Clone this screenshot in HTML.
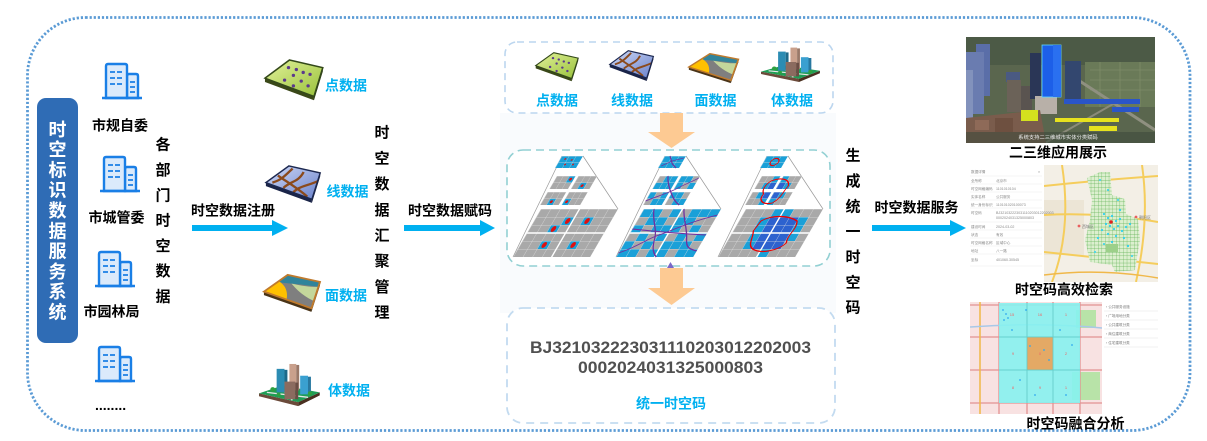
<!DOCTYPE html>
<html><head><meta charset="utf-8">
<style>
html,body{margin:0;padding:0;background:#fff;width:1207px;height:441px;overflow:hidden}
svg{display:block}
text{font-family:"Liberation Sans","Noto Sans CJK SC",sans-serif;font-weight:bold}
.t{font-family:"Liberation Sans","Noto Sans CJK SC",sans-serif;font-weight:normal}
</style></head><body>
<svg width="1207" height="441" viewBox="0 0 1207 441" xmlns="http://www.w3.org/2000/svg">
<defs>
<pattern id="g8" width="9.625" height="8" patternUnits="userSpaceOnUse"><path d="M0,0H9.625M0,0V8" stroke="#e2e2e2" stroke-width="0.7" fill="none"/></pattern>
<pattern id="g6" width="6.17" height="6.5" patternUnits="userSpaceOnUse"><path d="M0,0H6.17M0,0V6.5" stroke="#e2e2e2" stroke-width="0.6" fill="none"/></pattern>
<pattern id="g7" width="7" height="6" patternUnits="userSpaceOnUse"><path d="M0,0H7M0,0V6" stroke="#e2e2e2" stroke-width="0.6" fill="none"/></pattern>
<pattern id="gg" width="3.6" height="3.6" patternUnits="userSpaceOnUse"><path d="M0,0H3.6M0,0V3.6" stroke="#5cb050" stroke-width="0.6" fill="none"/></pattern>
<linearGradient id="gGreen" x1="0" y1="0" x2="1" y2="1"><stop offset="0" stop-color="#e2f29a"/><stop offset="1" stop-color="#98c03a"/></linearGradient>
<linearGradient id="gBlue" x1="0" y1="0" x2="1" y2="1"><stop offset="0" stop-color="#d0daf6"/><stop offset="1" stop-color="#6a82cc"/></linearGradient>
<clipPath id="plateClip"><polygon points="26,1 60,9 51,39 1,20"/></clipPath>
<g id="bld">
 <path d="M25,35V13Q25,11 27,11H34Q36,11 36,13V35Z" fill="#dbeafb" stroke="#1a7fe6" stroke-width="2.4"/>
 <path d="M4,35V3Q4,1 6,1H23Q25,1 25,3V35Z" fill="#dbeafb" stroke="#1a7fe6" stroke-width="2.4"/>
 <path d="M0,35H40" stroke="#1a7fe6" stroke-width="2.6"/>
 <path d="M8,9H13M15,9H20M8,15H13M15,15H20M8,21H13M15,21H20M28,19H33M28,24H33M28,29H33" stroke="#1a7fe6" stroke-width="1.7"/>
</g>
<g id="ptPlate">
 <polygon points="1,20 51,39 51,43 1,24" fill="#3a4818"/>
 <polygon points="51,39 60,9 60,13 51,43" fill="#26330e"/>
 <polygon points="26,1 60,9 51,39 1,20" fill="url(#gGreen)" stroke="#33481a" stroke-width="1.6"/>
 <g fill="#5b3a8c"><circle cx="25" cy="9" r="1.7"/><circle cx="33" cy="11" r="1.7"/><circle cx="40" cy="14" r="1.7"/><circle cx="30" cy="17" r="1.7"/><circle cx="47" cy="16" r="1.7"/><circle cx="21" cy="22" r="1.7"/><circle cx="38" cy="23" r="1.7"/><circle cx="30" cy="28" r="1.7"/><circle cx="45" cy="28" r="1.7"/></g>
</g>
<g id="lnPlate">
 <polygon points="1,20 51,39 51,43 1,24" fill="#1a2448"/>
 <polygon points="51,39 60,9 60,13 51,43" fill="#141c3a"/>
 <polygon points="26,1 60,9 51,39 1,20" fill="url(#gBlue)"/>
 <g clip-path="url(#plateClip)" fill="none" stroke="#8b4a1c" stroke-width="2.6">
  <path d="M8,20C18,17 22,12 30,4"/><path d="M20,26C28,18 36,20 42,8"/><path d="M30,32C36,24 46,24 58,18"/><path d="M14,12C25,20 35,26 46,36"/>
 </g>
 <polygon points="26,1 60,9 51,39 1,20" fill="none" stroke="#1c2850" stroke-width="1.6"/>
</g>
<g id="arPlate">
 <polygon points="1,20 51,39 51,43 1,24" fill="#4a3418"/>
 <polygon points="51,39 60,9 60,13 51,43" fill="#3a2810"/>
 <polygon points="26,1 60,9 51,39 1,20" fill="#7f7f7f"/>
 <g clip-path="url(#plateClip)">
  <polygon points="0,0 62,0 62,15 40,12 20,10" fill="#31849b"/>
  <path d="M30,11C40,13 50,16 62,14L62,34C50,30 40,24 30,11Z" fill="#c4d79b"/>
  <path d="M0,20L12,6C22,10 28,18 24,33Z" fill="#ffc000"/>
 </g>
 <polygon points="26,1 60,9 51,39 1,20" fill="none" stroke="#c07a2c" stroke-width="2"/>
</g>
<g id="bdPlate">
 <polygon points="0,32 40,41 40,45 0,35" fill="#6b4a3a"/>
 <polygon points="40,41 62,31 62,34 40,45" fill="#4a3020"/>
 <polygon points="0,32 24,24 62,31 40,41" fill="#1f9d55"/>
 <path d="M8,31L50,36M22,26L34,39" stroke="#e6e6e6" stroke-width="1.4"/>
 <rect x="18" y="7" width="8" height="24" fill="#2b8cb3"/><rect x="26" y="8" width="3" height="23" fill="#1d6a8a"/>
 <rect x="31" y="2" width="7" height="27" fill="#c9a08c"/><rect x="38" y="3" width="3" height="26" fill="#9a7868"/>
 <rect x="42" y="14" width="8" height="19" fill="#3aa0d0"/><rect x="50" y="15" width="3" height="18" fill="#2878a0"/>
 <rect x="26" y="20" width="11" height="18" fill="#8b6b5f"/><rect x="37" y="21" width="3" height="17" fill="#6a4d44"/>
 <circle cx="14" cy="28" r="2.4" fill="#2fa040"/><circle cx="52" cy="32" r="2.2" fill="#2fa040"/><circle cx="20" cy="33" r="2" fill="#2fa040"/>
</g>
<clipPath id="c1"><rect x="966" y="37" width="189" height="106"/></clipPath>
<clipPath id="c2"><rect x="968" y="165" width="190" height="117"/></clipPath>
<clipPath id="c3"><rect x="970" y="302" width="190" height="112"/></clipPath>
</defs>

<rect x="27.5" y="17.5" width="1162.5" height="413" rx="58" fill="none" stroke="#5b9bd5" stroke-width="2.8" stroke-dasharray="2.2 1.9"/>

<rect x="37" y="98" width="41" height="245" rx="9" fill="#2f6cb5"/>
<g fill="#fff" font-size="18" text-anchor="middle">
<text x="57.5" y="135.8">时</text><text x="57.5" y="156.1">空</text><text x="57.5" y="176.4">标</text><text x="57.5" y="196.7">识</text><text x="57.5" y="217">数</text><text x="57.5" y="237.3">据</text><text x="57.5" y="257.6">服</text><text x="57.5" y="277.9">务</text><text x="57.5" y="298.2">系</text><text x="57.5" y="318.5">统</text>
</g>

<use href="#bld" transform="translate(102,63)"/>
<use href="#bld" transform="translate(100,156)"/>
<use href="#bld" transform="translate(95,251)"/>
<use href="#bld" transform="translate(95,346)"/>
<g font-size="14" fill="#000" text-anchor="middle">
<text x="120" y="130.3">市规自委</text>
<text x="116.5" y="222.3">市城管委</text>
<text x="111.5" y="316.3">市园林局</text>
</g>
<text x="95" y="410" font-size="14" fill="#000">........</text>

<g font-size="15" fill="#000" text-anchor="middle">
<text x="163" y="149.7">各</text><text x="163" y="175">部</text><text x="163" y="200.3">门</text><text x="163" y="225.6">时</text><text x="163" y="250.9">空</text><text x="163" y="276.2">数</text><text x="163" y="301.5">据</text>
</g>

<g fill="#00b0f0">
<rect x="192" y="225" width="82" height="6"/><polygon points="272,220 288,228 272,236"/>
<rect x="404" y="225" width="78" height="6"/><polygon points="480,220 495,228 480,236"/>
<rect x="872" y="225" width="80" height="6"/><polygon points="950,220 966,228 950,236"/>
</g>
<g font-size="14" fill="#000" text-anchor="middle">
<text x="233" y="215.3">时空数据注册</text>
<text x="450" y="215.3">时空数据赋码</text>
<text x="916.5" y="212.3">时空数据服务</text>
</g>

<use href="#ptPlate" transform="translate(264,59) scale(0.98,0.96)"/>
<use href="#lnPlate" transform="translate(265,165) scale(0.92,0.88)"/>
<use href="#arPlate" transform="translate(263,274) scale(0.95,0.88)"/>
<use href="#bdPlate" transform="translate(259,362) scale(0.98,0.98)"/>
<g font-size="14" fill="#00b0f0" text-anchor="middle">
<text x="346" y="90.3">点数据</text>
<text x="347.5" y="196.3">线数据</text>
<text x="346" y="300.3">面数据</text>
<text x="349" y="395.3">体数据</text>
</g>

<g font-size="15" fill="#000" text-anchor="middle">
<text x="382" y="137.7">时</text><text x="382" y="163.4">空</text><text x="382" y="189.1">数</text><text x="382" y="214.8">据</text><text x="382" y="240.5">汇</text><text x="382" y="266.2">聚</text><text x="382" y="291.9">管</text><text x="382" y="317.6">理</text>
</g>

<rect x="500" y="113" width="336" height="200" fill="#f9fbfd"/>

<rect x="505" y="42" width="328" height="71" rx="12" fill="#fff" stroke="#bcd6ef" stroke-width="1.6" stroke-dasharray="7 5"/>
<use href="#ptPlate" transform="translate(535,52) scale(0.72,0.68)"/>
<use href="#lnPlate" transform="translate(609,50) scale(0.74,0.72)"/>
<use href="#arPlate" transform="translate(688,53) scale(0.84,0.7)"/>
<use href="#bdPlate" transform="translate(761,46) scale(0.95,0.8)"/>
<g font-size="14" fill="#00b0f0" text-anchor="middle">
<text x="557" y="105.3">点数据</text><text x="632" y="105.3">线数据</text><text x="715.5" y="105.3">面数据</text><text x="792" y="105.3">体数据</text>
</g>

<g fill="#fdca93">
<rect x="660" y="113" width="23" height="20"/><polygon points="648,132 695,132 671.5,148"/>
<rect x="660" y="268" width="23" height="21"/><polygon points="648,288 695,288 671.5,305"/>
</g>

<rect x="507" y="150" width="323" height="116" rx="16" fill="#fff" stroke="#92d0d3" stroke-width="1.6" stroke-dasharray="8 5"/>
<polygon points="667,268 670.5,262 674,268" fill="#7b68c8"/>

<g>
<path d="M562,156L513,257M583,156L618,209" stroke="#9a9a9a" stroke-width="0.7" fill="none"/>
<g transform="matrix(1,0,-0.58,1,541,209)">
 <rect width="77" height="48" fill="#a9a9a9"/>
 <g fill="#1aa0d8"><rect x="28.875" y="8" width="9.625" height="8"/><rect x="19.25" y="16" width="9.625" height="8"/><rect x="48.125" y="8" width="9.625" height="8"/><rect x="19.25" y="32" width="9.625" height="8"/><rect x="48.125" y="32" width="9.625" height="8"/></g>
 <rect width="77" height="48" fill="url(#g8)"/>
 <path d="M38.5,0V48M0,24H77" stroke="#fff" stroke-width="1.6"/>
 <g fill="#e01010"><ellipse cx="33.7" cy="12" rx="2.2" ry="3"/><ellipse cx="24.1" cy="20" rx="2.2" ry="3"/><ellipse cx="53" cy="12" rx="2.2" ry="3"/><ellipse cx="24.1" cy="36" rx="2.2" ry="3"/><ellipse cx="53" cy="36" rx="2.2" ry="3"/></g>
</g>
<g transform="matrix(1,0,-0.58,1,557,176)">
 <g><rect width="18.5" height="13" fill="#a9a9a9"/><rect x="12.34" y="0" width="6.17" height="6.5" fill="#1aa0d8"/><rect width="18.5" height="13" fill="url(#g6)"/><circle cx="15.4" cy="3.2" r="1.4" fill="#e01010"/></g>
 <g transform="translate(21.5,0)"><rect width="18.5" height="13" fill="#a9a9a9"/><rect x="6.17" y="6.5" width="6.17" height="6.5" fill="#1aa0d8"/><rect width="18.5" height="13" fill="url(#g6)"/><circle cx="9.2" cy="9.7" r="1.4" fill="#e01010"/></g>
 <g transform="translate(0,16)"><rect width="18.5" height="13" fill="#a9a9a9"/><rect x="6.17" y="6.5" width="6.17" height="6.5" fill="#1aa0d8"/><rect width="18.5" height="13" fill="url(#g6)"/><circle cx="9.2" cy="9.7" r="1.4" fill="#e01010"/></g>
 <g transform="translate(21.5,16)"><rect width="18.5" height="13" fill="#a9a9a9"/><rect x="0" y="6.5" width="6.17" height="6.5" fill="#1aa0d8"/><rect width="18.5" height="13" fill="url(#g6)"/><circle cx="3.1" cy="9.7" r="1.4" fill="#e01010"/></g>
</g>
<g transform="matrix(1,0,-0.58,1,562,156)">
 <rect width="21" height="12" fill="#1aa0d8"/><rect width="21" height="12" fill="url(#g7)"/>
 <g fill="#e01010"><circle cx="5" cy="3" r="0.9"/><circle cx="12" cy="4" r="0.9"/><circle cx="8" cy="8.5" r="0.9"/><circle cx="16" cy="8.5" r="0.9"/></g>
</g>
</g>

<g transform="translate(103,0)">
<path d="M562,156L513,257M583,156L618,209" stroke="#9a9a9a" stroke-width="0.7" fill="none"/>
<g transform="matrix(1,0,-0.58,1,541,209)">
 <rect width="77" height="48" fill="#a9a9a9"/>
 <g fill="#1aa0d8">
  <rect x="0" y="0" width="9.625" height="8"/><rect x="9.625" y="0" width="9.625" height="8"/><rect x="28.875" y="0" width="9.625" height="8"/><rect x="48.125" y="0" width="9.625" height="8"/><rect x="57.75" y="0" width="9.625" height="8"/><rect x="67.375" y="0" width="9.625" height="8"/>
  <rect x="9.625" y="8" width="9.625" height="8"/><rect x="19.25" y="8" width="9.625" height="8"/><rect x="38.5" y="8" width="9.625" height="8"/><rect x="48.125" y="8" width="9.625" height="8"/>
  <rect x="0" y="16" width="9.625" height="8"/><rect x="19.25" y="16" width="9.625" height="8"/><rect x="28.875" y="16" width="9.625" height="8"/><rect x="38.5" y="16" width="9.625" height="8"/><rect x="57.75" y="16" width="9.625" height="8"/>
  <rect x="9.625" y="24" width="9.625" height="8"/><rect x="28.875" y="24" width="9.625" height="8"/><rect x="48.125" y="24" width="9.625" height="8"/><rect x="67.375" y="24" width="9.625" height="8"/>
  <rect x="0" y="32" width="9.625" height="8"/><rect x="19.25" y="32" width="9.625" height="8"/><rect x="38.5" y="32" width="9.625" height="8"/><rect x="48.125" y="32" width="9.625" height="8"/><rect x="57.75" y="32" width="9.625" height="8"/>
  <rect x="0" y="40" width="9.625" height="8"/><rect x="9.625" y="40" width="9.625" height="8"/><rect x="28.875" y="40" width="9.625" height="8"/><rect x="38.5" y="40" width="9.625" height="8"/><rect x="57.75" y="40" width="9.625" height="8"/><rect x="67.375" y="40" width="9.625" height="8"/>
 </g>
 <rect width="77" height="48" fill="url(#g8)"/>
 <path d="M38.5,0V48M0,24H77" stroke="#fff" stroke-width="1.6"/>
 <g fill="none" stroke="#7030a0" stroke-width="1.1">
  <path d="M0,44C15,38 20,30 30,26S50,14 77,6"/><path d="M10,0C15,12 25,20 28,30S35,44 40,48"/><path d="M40,0C45,10 55,20 60,30S70,40 77,42"/><path d="M0,20C20,22 40,24 77,26"/>
 </g>
</g>
<g transform="matrix(1,0,-0.58,1,557,176)">
 <g><rect width="18.5" height="13" fill="#a9a9a9"/><g fill="#1aa0d8"><rect x="6.17" width="6.17" height="6.5"/><rect x="12.34" width="6.17" height="6.5"/><rect y="6.5" width="6.17" height="6.5"/><rect x="6.17" y="6.5" width="6.17" height="6.5"/><rect x="12.34" y="6.5" width="6.17" height="6.5"/></g><rect width="18.5" height="13" fill="url(#g6)"/></g>
 <g transform="translate(21.5,0)"><rect width="18.5" height="13" fill="#a9a9a9"/><g fill="#1aa0d8"><rect width="6.17" height="6.5"/><rect x="6.17" width="6.17" height="6.5"/><rect y="6.5" width="6.17" height="6.5"/><rect x="12.34" y="6.5" width="6.17" height="6.5"/></g><rect width="18.5" height="13" fill="url(#g6)"/></g>
 <g transform="translate(0,16)"><rect width="18.5" height="13" fill="#a9a9a9"/><g fill="#1aa0d8"><rect width="6.17" height="6.5"/><rect x="12.34" width="6.17" height="6.5"/><rect x="6.17" y="6.5" width="6.17" height="6.5"/><rect x="12.34" y="6.5" width="6.17" height="6.5"/></g><rect width="18.5" height="13" fill="url(#g6)"/></g>
 <g transform="translate(21.5,16)"><rect width="18.5" height="13" fill="#a9a9a9"/><g fill="#1aa0d8"><rect width="6.17" height="6.5"/><rect x="6.17" width="6.17" height="6.5"/><rect x="6.17" y="6.5" width="6.17" height="6.5"/><rect x="12.34" y="6.5" width="6.17" height="6.5"/></g><rect width="18.5" height="13" fill="url(#g6)"/></g>
 <g fill="none" stroke="#7030a0" stroke-width="1"><path d="M0,25C10,20 20,16 25,12S35,6 40,2"/><path d="M8,0C12,8 18,14 22,18S30,26 36,29"/></g>
</g>
<g transform="matrix(1,0,-0.58,1,562,156)">
 <rect width="21" height="12" fill="#1aa0d8"/><rect width="21" height="12" fill="url(#g7)"/>
 <path d="M2,10L10,5L20,2M5,0L12,8L18,12" fill="none" stroke="#7030a0" stroke-width="0.9"/>
</g>
</g>

<g transform="translate(205,0)">
<path d="M562,156L513,257M583,156L618,209" stroke="#9a9a9a" stroke-width="0.7" fill="none"/>
<g transform="matrix(1,0,-0.58,1,541,209)">
 <rect width="77" height="48" fill="#a9a9a9"/>
 <g fill="#1aa0d8">
  <rect x="28.875" y="0" width="19.25" height="8"/>
  <rect x="19.25" y="8" width="48.125" height="8"/>
  <rect x="19.25" y="16" width="48.125" height="8"/>
  <rect x="19.25" y="24" width="48.125" height="8"/>
  <rect x="19.25" y="32" width="38.5" height="8"/>
  <rect x="38.5" y="40" width="9.625" height="8"/>
 </g>
 <rect x="28.875" y="8" width="28.875" height="32" fill="#2d62cf"/>
 <rect width="77" height="48" fill="url(#g8)"/>
 <path d="M38.5,0V48M0,24H77" stroke="#fff" stroke-width="1.6"/>
 <path d="M22,12C30,5 48,7 58,12C63,20 56,26 60,34C56,42 40,45 30,40C22,36 24,28 20,22Z" fill="none" stroke="#e00" stroke-width="1.2"/>
</g>
<g transform="matrix(1,0,-0.58,1,557,176)">
 <g><rect width="18.5" height="13" fill="#a9a9a9"/><g fill="#1aa0d8"><rect x="12.34" width="6.17" height="6.5"/><rect x="6.17" y="6.5" width="12.34" height="6.5"/></g><rect x="12.34" y="6.5" width="6.17" height="6.5" fill="#2d62cf"/><rect width="18.5" height="13" fill="url(#g6)"/></g>
 <g transform="translate(21.5,0)"><rect width="18.5" height="13" fill="#a9a9a9"/><g fill="#1aa0d8"><rect width="6.17" height="13"/><rect x="6.17" y="6.5" width="6.17" height="6.5"/></g><rect y="6.5" width="6.17" height="6.5" fill="#2d62cf"/><rect width="18.5" height="13" fill="url(#g6)"/></g>
 <g transform="translate(0,16)"><rect width="18.5" height="13" fill="#a9a9a9"/><g fill="#1aa0d8"><rect x="6.17" width="12.34" height="6.5"/><rect x="12.34" y="6.5" width="6.17" height="6.5"/></g><rect x="12.34" width="6.17" height="6.5" fill="#2d62cf"/><rect width="18.5" height="13" fill="url(#g6)"/></g>
 <g transform="translate(21.5,16)"><rect width="18.5" height="13" fill="#a9a9a9"/><g fill="#1aa0d8"><rect width="12.34" height="6.5"/><rect y="6.5" width="6.17" height="6.5"/></g><rect width="6.17" height="6.5" fill="#2d62cf"/><rect width="18.5" height="13" fill="url(#g6)"/></g>
 <path d="M12,5C20,1 30,3 32,10C30,16 32,22 26,27C18,29 10,25 12,18C8,14 8,9 12,5Z" fill="none" stroke="#e00" stroke-width="1.1"/>
</g>
<g transform="matrix(1,0,-0.58,1,562,156)">
 <rect width="21" height="12" fill="#1aa0d8"/><rect width="21" height="12" fill="url(#g7)"/>
 <ellipse cx="11" cy="6" rx="4" ry="3.6" fill="none" stroke="#e00" stroke-width="1"/>
</g>
</g>

<rect x="507" y="308" width="328" height="115" rx="16" fill="#fff" stroke="#c3dbf0" stroke-width="1.8" stroke-dasharray="8 6"/>
<g font-size="17" fill="#505050" text-anchor="middle">
<text x="670.5" y="353" textLength="281" lengthAdjust="spacingAndGlyphs">BJ321032223031110203012202003</text>
<text x="670.5" y="373" textLength="185" lengthAdjust="spacingAndGlyphs">0002024031325000803</text>
</g>
<text x="671" y="408.3" font-size="14" fill="#00b0f0" text-anchor="middle">统一时空码</text>

<g font-size="15" fill="#000" text-anchor="middle">
<text x="853" y="160.7">生</text><text x="853" y="186">成</text><text x="853" y="211.4">统</text><text x="853" y="236.7">一</text><text x="853" y="262">时</text><text x="853" y="287.4">空</text><text x="853" y="312.7">码</text>
</g>

<g clip-path="url(#c1)">
 <rect x="966" y="37" width="189" height="106" fill="#5a664e"/>
 <rect x="966" y="37" width="189" height="28" fill="#4c5a46"/>
 <rect x="1085" y="62" width="70" height="45" fill="#6a7a58"/>
 <path d="M1090,70H1155M1090,80H1155M1090,90H1155M1100,62V107M1120,62V107M1140,62V107" stroke="#7d8c68" stroke-width="0.8"/>
 <path d="M1075,78L1155,130" stroke="#8f9080" stroke-width="3"/>
 <path d="M1045,143L1120,100" stroke="#8a8a7a" stroke-width="2"/>
 <rect x="976" y="44" width="14" height="52" fill="#5a6ea8"/>
 <rect x="966" y="52" width="18" height="62" fill="#6a7cb0"/>
 <rect x="966" y="70" width="7" height="50" fill="#8292bc"/>
 <rect x="1006" y="72" width="14" height="10" fill="#4a5a82"/>
 <rect x="1007" y="80" width="14" height="32" fill="#6b6258"/>
 <rect x="1021" y="86" width="11" height="28" fill="#5a5450"/>
 <rect x="1030" y="53" width="11" height="46" fill="#2a3656"/>
 <rect x="1065" y="61" width="16" height="38" fill="#33476f"/>
 <rect x="1035" y="96" width="22" height="18" fill="#b8b0a8"/>
 <rect x="1042" y="45" width="19" height="52" fill="#1d5fe8" stroke="#5fd8ff" stroke-width="0.8"/>
 <rect x="1053" y="45" width="8" height="52" fill="#2a70f0"/>
 <polygon points="966,118 1040,110 1046,143 966,143" fill="#7a5c4c"/>
 <rect x="975" y="120" width="14" height="10" fill="#8e6a58"/><rect x="995" y="118" width="18" height="14" fill="#6e5040"/>
 <rect x="1021" y="110" width="17" height="11" fill="#d4e11e"/>
 <rect x="1064" y="99" width="76" height="5" fill="#2a55c8"/>
 <rect x="1112" y="107" width="27" height="5" fill="#2a55c8"/>
 <rect x="1055" y="118" width="64" height="4" fill="#e6e21e"/>
 <rect x="1089" y="126" width="28" height="5" fill="#e6e21e"/>
 <rect x="966" y="132" width="189" height="11" fill="#3e4a3c" opacity="0.6"/>
 <text x="1058" y="139" font-size="5.3" fill="#eee" text-anchor="middle" class="t">系统支持二三维城市实体分类赋码</text>
</g>
<text x="1058" y="157.3" font-size="14" fill="#000" text-anchor="middle">二三维应用展示</text>

<g clip-path="url(#c2)">
 <rect x="968" y="165" width="190" height="117" fill="#f3efe6"/>
 <rect x="1044" y="200" width="40" height="55" fill="#ece5d6"/>
 <g fill="none" stroke="#f5cd5c" stroke-width="2">
  <path d="M1044,186Q1100,180 1158,176"/><path d="M1044,252Q1100,258 1158,264"/><path d="M1142,165Q1150,220 1136,282"/><path d="M1062,165Q1072,230 1052,282"/><path d="M1044,215Q1100,212 1158,222"/>
 </g>
 <path d="M1044,275Q1100,268 1158,278" stroke="#f0b84a" stroke-width="1.4" fill="none"/>
 <polygon points="1087,178 1100,172 1110,172 1112,195 1125,199 1126,214 1138,219 1140,240 1135,270 1115,272 1112,265 1090,262 1085,240 1090,220 1092,200" fill="#dcefcf"/>
 <polygon points="1087,178 1100,172 1110,172 1112,195 1125,199 1126,214 1138,219 1140,240 1135,270 1115,272 1112,265 1090,262 1085,240 1090,220 1092,200" fill="url(#gg)"/>
 <rect x="1106" y="244" width="12" height="8" fill="#9cd08a"/>
 <g fill="#2fd0f0">
  <circle cx="1104" cy="214" r="1.1"/><circle cx="1108" cy="218" r="1.1"/><circle cx="1112" cy="216" r="1.1"/><circle cx="1116" cy="221" r="1.1"/><circle cx="1120" cy="219" r="1.1"/><circle cx="1106" cy="224" r="1.1"/><circle cx="1110" cy="226" r="1.1"/><circle cx="1114" cy="229" r="1.1"/><circle cx="1118" cy="226" r="1.1"/><circle cx="1122" cy="231" r="1.1"/><circle cx="1126" cy="227" r="1.1"/><circle cx="1102" cy="230" r="1.1"/><circle cx="1108" cy="234" r="1.1"/><circle cx="1116" cy="236" r="1.1"/><circle cx="1124" cy="238" r="1.1"/><circle cx="1130" cy="224" r="1.1"/><circle cx="1098" cy="238" r="1.1"/><circle cx="1112" cy="242" r="1.1"/><circle cx="1128" cy="246" r="1.1"/><circle cx="1100" cy="180" r="1"/><circle cx="1108" cy="190" r="1"/><circle cx="1118" cy="200" r="1"/><circle cx="1132" cy="256" r="1"/><circle cx="1095" cy="252" r="1"/><circle cx="1120" cy="210" r="1.1"/><circle cx="1104" cy="244" r="1"/>
 </g>
 <circle cx="1111" cy="222" r="1.8" fill="#e02020"/>
 <g fill="#e86060"><circle cx="1079" cy="226" r="1.4"/><circle cx="1136" cy="217" r="1.4"/><circle cx="1025" cy="271" r="1.4"/></g>
 <g font-size="4" fill="#777" class="t"><text x="1082" y="228" class="t">西城区</text><text x="1139" y="219" class="t">朝阳区</text><text x="1028" y="273" class="t">丰台区</text></g>
 <rect x="968" y="165" width="76" height="117" fill="#fff"/>
 <g stroke="#eeeeee" stroke-width="0.6"><path d="M970,176H1042M970,184H1042M970,192H1042M970,200H1042M970,208H1042M970,222H1042M970,230H1042M970,238H1042M970,246H1042M970,254H1042M970,266H1042"/></g>
 <g font-size="3.6" fill="#888">
  <text x="971" y="173" class="t">数据详情</text><text x="1038" y="173" class="t">×</text>
  <text x="971" y="182" class="t">全所称</text><text x="996" y="182" class="t">北京市</text>
  <text x="971" y="190" class="t">时空网格编码</text><text x="996" y="190" class="t">1101010104</text>
  <text x="971" y="198" class="t">实体名称</text><text x="996" y="198" class="t">公共服务</text>
  <text x="971" y="206" class="t">统一身份标识</text><text x="996" y="206" class="t">110101020100073</text>
  <text x="971" y="214" class="t">时空码</text><text x="996" y="214" class="t">BJ321032223031110203012202003</text>
  <text x="996" y="219" class="t">0002024031325000803</text>
  <text x="971" y="228" class="t">建设时间</text><text x="996" y="228" class="t">2024-03-02</text>
  <text x="971" y="236" class="t">状态</text><text x="996" y="236" class="t">有效</text>
  <text x="971" y="244" class="t">时空网格名称</text><text x="996" y="244" class="t">区域中心</text>
  <text x="971" y="252" class="t">地址</text><text x="996" y="252" class="t">八一路</text>
  <text x="971" y="261" class="t">坐标</text><text x="996" y="261" class="t">401060.30545</text>
 </g>
</g>
<text x="1064" y="294.3" font-size="14" fill="#000" text-anchor="middle">时空码高效检索</text>

<g clip-path="url(#c3)">
 <rect x="970" y="302" width="190" height="112" fill="#f8e2e2"/>
 <rect x="1076" y="310" width="20" height="18" fill="#b8e3a8"/>
 <rect x="1072" y="372" width="28" height="28" fill="#b8e3a8"/>
 <g stroke="#e29393" stroke-width="1.3">
  <path d="M999,302V414M1027,302V414M1053,302V414M1080,302V414"/>
  <path d="M970,305H1102M970,337H1102M970,370H1102M970,403H1102"/>
 </g>
 <path d="M980,302V414" stroke="#f0b848" stroke-width="1.5"/>
 <path d="M970,327Q1040,322 1102,328" stroke="#a8c8e8" stroke-width="1.5" fill="none"/>
 <rect x="999" y="303" width="81" height="100" fill="#86f2f0" opacity="0.9"/>
 <rect x="1027" y="337" width="26" height="33" fill="#e4a965"/>
 <path d="M1027,303V403M1053,303V403M999,337H1080M999,370H1080" stroke="#5ccbc8" stroke-width="0.7"/>
 <g font-size="4" fill="#e66" text-anchor="middle" class="t">
  <text x="1012" y="316" class="t">15</text><text x="1040" y="316" class="t">16</text><text x="1066" y="316" class="t">1</text>
  <text x="1013" y="355" class="t">9</text><text x="1040" y="355" class="t">0</text><text x="1066" y="355" class="t">2</text>
  <text x="1013" y="389" class="t">8</text><text x="1040" y="389" class="t">9</text><text x="1066" y="389" class="t">1</text>
 </g>
 <g fill="#2ea8f0">
  <circle cx="1003" cy="310" r="0.9"/><circle cx="1006" cy="314" r="0.9"/><circle cx="1004" cy="320" r="0.9"/><circle cx="1008" cy="318" r="0.9"/><circle cx="1012" cy="330" r="0.9"/><circle cx="1030" cy="346" r="0.9"/><circle cx="1044" cy="350" r="0.9"/><circle cx="1049" cy="360" r="0.9"/><circle cx="1020" cy="380" r="0.9"/><circle cx="1060" cy="330" r="0.9"/><circle cx="1072" cy="345" r="0.9"/><circle cx="1035" cy="395" r="0.9"/><circle cx="1066" cy="395" r="0.9"/><circle cx="1026" cy="310" r="0.9"/>
 </g>
 <rect x="1102" y="302" width="58" height="112" fill="#fff"/>
 <path d="M1104,311H1158M1104,320H1158M1104,329H1158M1104,338H1158M1104,347H1158" stroke="#e6e6e6" stroke-width="0.6"/>
 <g font-size="3.6" fill="#777">
  <text x="1106" y="308" class="t">›  公共服务设施</text>
  <text x="1106" y="317" class="t">›  广场用地分类</text>
  <text x="1106" y="326" class="t">›  公共建筑分类</text>
  <text x="1106" y="335" class="t">›  商住建筑分类</text>
  <text x="1106" y="344" class="t">›  住宅建筑分类</text>
 </g>
</g>
<text x="1075.5" y="428.3" font-size="14" fill="#000" text-anchor="middle">时空码融合分析</text>
</svg>
</body></html>
